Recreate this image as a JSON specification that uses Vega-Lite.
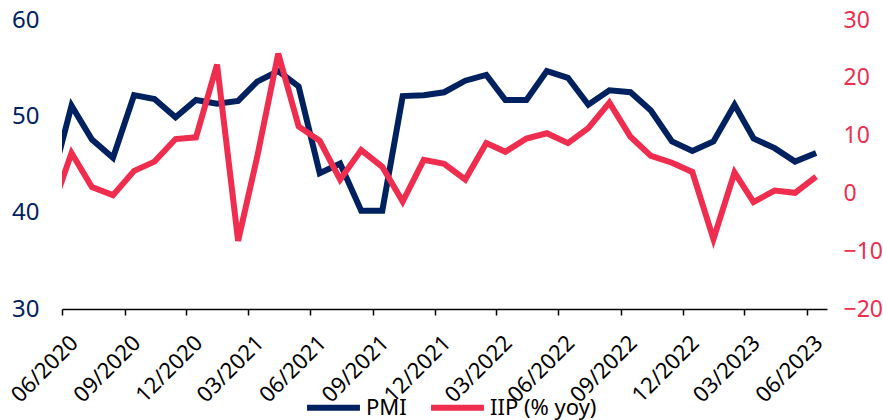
{
  "$schema": "https://vega.github.io/schema/vega-lite/v6.json",
  "width": 765,
  "height": 289,
  "autosize": {"type": "none"},
  "padding": {"left": 62, "top": 20, "right": 56, "bottom": 111},
  "background": "white",
  "config": {
    "view": {"stroke": null},
    "font": "Noto Sans",
    "axis": {"grid": false, "labelFont": "Noto Sans", "titleFont": "Noto Sans"},
    "legend": {"labelFont": "Noto Sans"}
  },
  "data": {
    "values": [
      {"date": "2020-05-15", "series": "PMI", "value": 42.7},
      {"date": "2020-06-15", "series": "PMI", "value": 51.1},
      {"date": "2020-07-15", "series": "PMI", "value": 47.6},
      {"date": "2020-08-15", "series": "PMI", "value": 45.7},
      {"date": "2020-09-15", "series": "PMI", "value": 52.2},
      {"date": "2020-10-15", "series": "PMI", "value": 51.8},
      {"date": "2020-11-15", "series": "PMI", "value": 49.9},
      {"date": "2020-12-15", "series": "PMI", "value": 51.7},
      {"date": "2021-01-15", "series": "PMI", "value": 51.3},
      {"date": "2021-02-15", "series": "PMI", "value": 51.6},
      {"date": "2021-03-15", "series": "PMI", "value": 53.6},
      {"date": "2021-04-15", "series": "PMI", "value": 54.7},
      {"date": "2021-05-15", "series": "PMI", "value": 53.1},
      {"date": "2021-06-15", "series": "PMI", "value": 44.1},
      {"date": "2021-07-15", "series": "PMI", "value": 45.1},
      {"date": "2021-08-15", "series": "PMI", "value": 40.2},
      {"date": "2021-09-15", "series": "PMI", "value": 40.2},
      {"date": "2021-10-15", "series": "PMI", "value": 52.1},
      {"date": "2021-11-15", "series": "PMI", "value": 52.2},
      {"date": "2021-12-15", "series": "PMI", "value": 52.5},
      {"date": "2022-01-15", "series": "PMI", "value": 53.7},
      {"date": "2022-02-15", "series": "PMI", "value": 54.3},
      {"date": "2022-03-15", "series": "PMI", "value": 51.7},
      {"date": "2022-04-15", "series": "PMI", "value": 51.7},
      {"date": "2022-05-15", "series": "PMI", "value": 54.7},
      {"date": "2022-06-15", "series": "PMI", "value": 54.0},
      {"date": "2022-07-15", "series": "PMI", "value": 51.2},
      {"date": "2022-08-15", "series": "PMI", "value": 52.7},
      {"date": "2022-09-15", "series": "PMI", "value": 52.5},
      {"date": "2022-10-15", "series": "PMI", "value": 50.6},
      {"date": "2022-11-15", "series": "PMI", "value": 47.4},
      {"date": "2022-12-15", "series": "PMI", "value": 46.4},
      {"date": "2023-01-15", "series": "PMI", "value": 47.4},
      {"date": "2023-02-15", "series": "PMI", "value": 51.2},
      {"date": "2023-03-15", "series": "PMI", "value": 47.7},
      {"date": "2023-04-15", "series": "PMI", "value": 46.7},
      {"date": "2023-05-15", "series": "PMI", "value": 45.3},
      {"date": "2023-06-15", "series": "PMI", "value": 46.2},
      {"date": "2020-05-15", "series": "IIP (% yoy)", "value": -3.5},
      {"date": "2020-06-15", "series": "IIP (% yoy)", "value": 7.0},
      {"date": "2020-07-15", "series": "IIP (% yoy)", "value": 1.1},
      {"date": "2020-08-15", "series": "IIP (% yoy)", "value": -0.3},
      {"date": "2020-09-15", "series": "IIP (% yoy)", "value": 3.9},
      {"date": "2020-10-15", "series": "IIP (% yoy)", "value": 5.5},
      {"date": "2020-11-15", "series": "IIP (% yoy)", "value": 9.4},
      {"date": "2020-12-15", "series": "IIP (% yoy)", "value": 9.7},
      {"date": "2021-01-15", "series": "IIP (% yoy)", "value": 22.3},
      {"date": "2021-02-15", "series": "IIP (% yoy)", "value": -8.2},
      {"date": "2021-03-15", "series": "IIP (% yoy)", "value": 6.3},
      {"date": "2021-04-15", "series": "IIP (% yoy)", "value": 24.2},
      {"date": "2021-05-15", "series": "IIP (% yoy)", "value": 11.6},
      {"date": "2021-06-15", "series": "IIP (% yoy)", "value": 9.1},
      {"date": "2021-07-15", "series": "IIP (% yoy)", "value": 2.4},
      {"date": "2021-08-15", "series": "IIP (% yoy)", "value": 7.5},
      {"date": "2021-09-15", "series": "IIP (% yoy)", "value": 4.6},
      {"date": "2021-10-15", "series": "IIP (% yoy)", "value": -1.4},
      {"date": "2021-11-15", "series": "IIP (% yoy)", "value": 5.8},
      {"date": "2021-12-15", "series": "IIP (% yoy)", "value": 5.1},
      {"date": "2022-01-15", "series": "IIP (% yoy)", "value": 2.4},
      {"date": "2022-02-15", "series": "IIP (% yoy)", "value": 8.7},
      {"date": "2022-03-15", "series": "IIP (% yoy)", "value": 7.2},
      {"date": "2022-04-15", "series": "IIP (% yoy)", "value": 9.5},
      {"date": "2022-05-15", "series": "IIP (% yoy)", "value": 10.4},
      {"date": "2022-06-15", "series": "IIP (% yoy)", "value": 8.7},
      {"date": "2022-07-15", "series": "IIP (% yoy)", "value": 11.3},
      {"date": "2022-08-15", "series": "IIP (% yoy)", "value": 15.7},
      {"date": "2022-09-15", "series": "IIP (% yoy)", "value": 9.8},
      {"date": "2022-10-15", "series": "IIP (% yoy)", "value": 6.5},
      {"date": "2022-11-15", "series": "IIP (% yoy)", "value": 5.3},
      {"date": "2022-12-15", "series": "IIP (% yoy)", "value": 3.7},
      {"date": "2023-01-15", "series": "IIP (% yoy)", "value": -7.9},
      {"date": "2023-02-15", "series": "IIP (% yoy)", "value": 3.6},
      {"date": "2023-03-15", "series": "IIP (% yoy)", "value": -1.5},
      {"date": "2023-04-15", "series": "IIP (% yoy)", "value": 0.5},
      {"date": "2023-05-15", "series": "IIP (% yoy)", "value": 0.1},
      {"date": "2023-06-15", "series": "IIP (% yoy)", "value": 2.9}
    ]
  },
  "encoding": {
    "x": {
      "field": "date",
      "type": "temporal",
      "title": null,
      "scale": {
        "type": "utc",
        "domain": [
          {"year": 2020, "month": 6, "date": 1, "utc": true},
          {"year": 2023, "month": 7, "date": 1, "utc": true}
        ],
        "nice": false
      },
      "axis": {
        "values": [
          {"year": 2020, "month": 6, "date": 1, "utc": true},
          {"year": 2020, "month": 9, "date": 1, "utc": true},
          {"year": 2020, "month": 12, "date": 1, "utc": true},
          {"year": 2021, "month": 3, "date": 1, "utc": true},
          {"year": 2021, "month": 6, "date": 1, "utc": true},
          {"year": 2021, "month": 9, "date": 1, "utc": true},
          {"year": 2021, "month": 12, "date": 1, "utc": true},
          {"year": 2022, "month": 3, "date": 1, "utc": true},
          {"year": 2022, "month": 6, "date": 1, "utc": true},
          {"year": 2022, "month": 9, "date": 1, "utc": true},
          {"year": 2022, "month": 12, "date": 1, "utc": true},
          {"year": 2023, "month": 3, "date": 1, "utc": true},
          {"year": 2023, "month": 6, "date": 1, "utc": true}
        ],
        "format": "%m/%Y",
        "labelAngle": -45,
        "labelAlign": "right",
        "labelBaseline": "middle",
        "labelFontSize": 22,
        "labelColor": "#000000",
        "labelPadding": 24,
        "labelOffset": 12,
        "labelOverlap": false,
        "labelBound": false,
        "labelFlush": false,
        "domainColor": "#000000",
        "domainWidth": 1.5,
        "tickColor": "#000000",
        "tickWidth": 1.5,
        "tickSize": 6,
        "grid": false
      }
    },
    "color": {
      "field": "series",
      "type": "nominal",
      "scale": {"domain": ["PMI", "IIP (% yoy)"], "range": ["#00215F", "#EE2D4F"]},
      "legend": {
        "orient": "none",
        "direction": "horizontal",
        "legendX": 242,
        "legendY": 358,
        "title": null,
        "symbolType": "stroke",
        "symbolSize": 2800,
        "symbolStrokeWidth": 6,
        "labelFontSize": 22,
        "labelColor": "#000000",
        "labelOffset": 3,
        "columnPadding": 12
      }
    }
  },
  "layer": [
    {
      "transform": [{"filter": "datum.series === 'PMI'"}],
      "mark": {"type": "line", "strokeWidth": 6, "clip": true, "strokeJoin": "miter"},
      "encoding": {
        "y": {
          "field": "value",
          "type": "quantitative",
          "title": null,
          "scale": {"domain": [30, 60], "nice": false, "zero": false},
          "axis": {
            "orient": "left",
            "values": [30, 40, 50, 60],
            "domain": false,
            "ticks": false,
            "labelFontSize": 24,
            "labelColor": "#00215F",
            "labelPadding": 23,
            "grid": false
          }
        }
      }
    },
    {
      "transform": [{"filter": "datum.series === 'IIP (% yoy)'"}],
      "mark": {"type": "line", "strokeWidth": 6, "clip": true, "strokeJoin": "miter"},
      "encoding": {
        "y": {
          "field": "value",
          "type": "quantitative",
          "title": null,
          "scale": {"domain": [-20, 30], "nice": false, "zero": false},
          "axis": {
            "orient": "right",
            "values": [-20, -10, 0, 10, 20, 30],
            "domain": false,
            "ticks": false,
            "labelFontSize": 23,
            "labelColor": "#EE2D4F",
            "labelPadding": 16,
            "grid": false
          }
        }
      }
    }
  ],
  "resolve": {"scale": {"y": "independent"}}
}
